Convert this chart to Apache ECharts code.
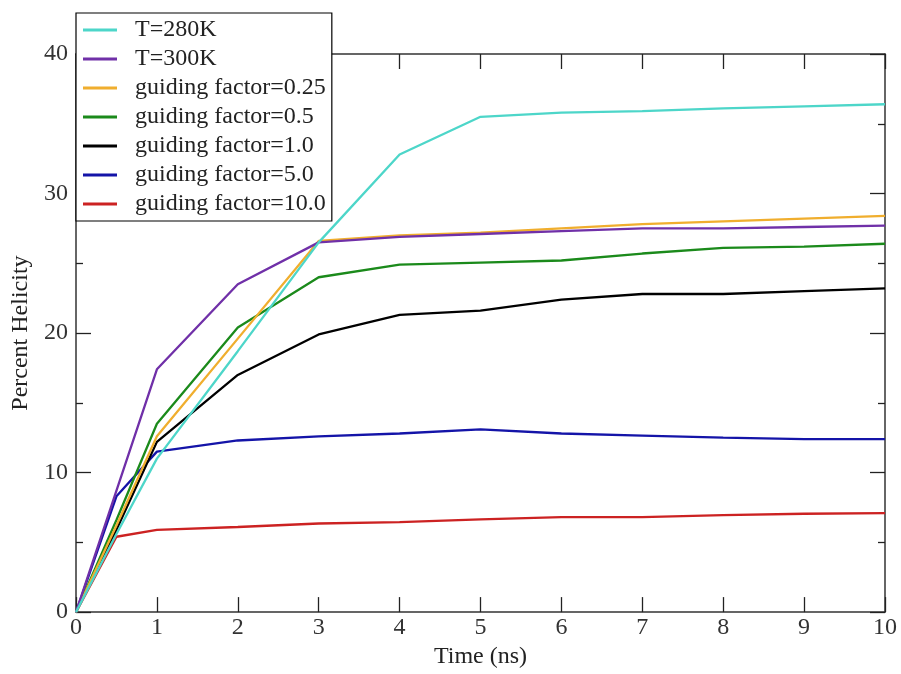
<!DOCTYPE html>
<html>
<head>
<meta charset="utf-8">
<script src="https://cdn.jsdelivr.net/npm/echarts@6/dist/echarts.min.js"></script>
<style>html,body{margin:0;padding:0;background:#fff}#c{width:901px;height:674px}</style>
</head>
<body>
<div id="c"></div>
<script>
const times = [0, 0.5, 1, 2, 3, 4, 5, 6, 7, 8, 9, 10];
const seriesNames = ['T=280K', 'T=300K', 'guiding factor=0.25', 'guiding factor=0.5', 'guiding factor=1.0', 'guiding factor=5.0', 'guiding factor=10.0'];
const t280 = [0, 5.6, 11.0, 18.7, 26.5, 32.8, 35.5, 35.8, 35.9, 36.1, 36.25, 36.4];
const t300 = [0, 8.7, 17.4, 23.5, 26.5, 26.9, 27.1, 27.3, 27.5, 27.5, 27.6, 27.7];
const gf025 = [0, 6.2, 12.6, 19.6, 26.6, 27.0, 27.2, 27.5, 27.8, 28.0, 28.2, 28.4];
const gf05 = [0, 6.6, 13.5, 20.4, 24.0, 24.9, 25.05, 25.2, 25.7, 26.1, 26.2, 26.4];
const gf10 = [0, 5.9, 12.2, 17.0, 19.9, 21.3, 21.6, 22.4, 22.8, 22.8, 23.0, 23.2];
const gf50 = [0, 8.3, 11.5, 12.3, 12.6, 12.8, 13.1, 12.8, 12.65, 12.5, 12.4, 12.4];
const gf100 = [0, 5.4, 5.9, 6.1, 6.35, 6.45, 6.65, 6.8, 6.8, 6.95, 7.05, 7.1];
const xTicks = [0, 1, 2, 3, 4, 5, 6, 7, 8, 9, 10];
const yTicks = [0, 10, 20, 30, 40];

const allValues = [t280, t300, gf025, gf05, gf10, gf50, gf100];
const colors = ['#4dd6c9', '#7030a8', '#f0ae2e', '#1b8a1b', '#000000', '#1414a8', '#cc2222'];

const font = 'Liberation Serif, Times New Roman, serif';
const chart = echarts.init(document.getElementById('c'), null, {renderer: 'canvas'});

const tickStyle = {color: '#222', width: 1.3};
chart.setOption({
  animation: false,
  backgroundColor: '#fff',
  grid: {left: 76, right: 16, top: 54, bottom: 55, show: false},
  legend: {
    orient: 'vertical',
    left: 76, top: 13,
    padding: [5, 6, 5, 7],
    itemGap: 5,
    itemWidth: 34, itemHeight: 3,
    icon: 'rect',
    backgroundColor: '#fff',
    borderColor: '#000', borderWidth: 1.2,
    textStyle: {fontFamily: font, fontSize: 24, color: '#222', lineHeight: 24, padding: [0, 0, 0, 13]},
    data: seriesNames
  },
  xAxis: [{
    type: 'value', min: xTicks[0], max: xTicks[xTicks.length - 1], interval: 1,
    axisLine: {show: true, lineStyle: {color: '#333', width: 1.5}},
    axisTick: {show: true, inside: true, length: 15, lineStyle: tickStyle},
    splitLine: {show: false},
    axisLabel: {fontFamily: font, fontSize: 24, color: '#333', margin: 4},
    name: 'Time (ns)', nameLocation: 'middle', nameGap: 29,
    nameTextStyle: {fontFamily: font, fontSize: 24, color: '#222'}
  }, {
    type: 'value', position: 'top', min: 0, max: 10, interval: 1,
    axisLine: {show: true, onZero: false, lineStyle: {color: '#333', width: 1.5}},
    axisTick: {show: true, inside: true, length: 15, lineStyle: tickStyle},
    axisLabel: {show: false}, splitLine: {show: false}
  }],
  yAxis: [{
    type: 'value', min: yTicks[0], max: yTicks[yTicks.length - 1], interval: 10,
    axisLine: {show: true, lineStyle: {color: '#333', width: 1.5}},
    axisTick: {show: true, inside: true, length: 15, lineStyle: tickStyle},
    minorTick: {show: true, splitNumber: 2, length: 7, lineStyle: tickStyle},
    splitLine: {show: false},
    axisLabel: {fontFamily: font, fontSize: 24, color: '#333', margin: 8},
    name: 'Percent Helicity', nameLocation: 'middle', nameGap: 42, nameRotate: 90,
    nameTextStyle: {fontFamily: font, fontSize: 24, color: '#222'}
  }, {
    type: 'value', position: 'right', min: 0, max: 40, interval: 10,
    axisLine: {show: true, onZero: false, lineStyle: {color: '#333', width: 1.5}},
    axisTick: {show: true, inside: true, length: 15, lineStyle: tickStyle},
    minorTick: {show: true, splitNumber: 2, length: 7, lineStyle: tickStyle},
    axisLabel: {show: false}, splitLine: {show: false}
  }],
  series: seriesNames.map((name, i) => ({
    name: name,
    type: 'line',
    xAxisIndex: 0, yAxisIndex: 0,
    data: times.map((t, j) => [t, allValues[i][j]]),
    showSymbol: false,
    symbol: 'none',
    lineStyle: {color: colors[i], width: 2.3},
    itemStyle: {color: colors[i]},
    z: 10 - i
  }))
});
</script>
</body>
</html>
